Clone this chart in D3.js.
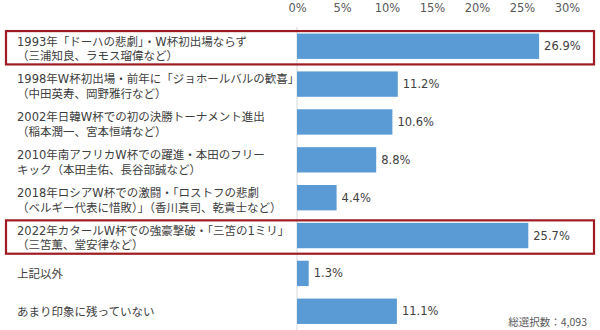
<!DOCTYPE html>
<html>
<head>
<meta charset="utf-8">
<script src="https://cdn.jsdelivr.net/npm/d3@7"></script>
<style>
  body { margin: 0; background: #fff; }
  svg text { font-family: "Noto Sans CJK JP", "Noto Sans", sans-serif; }
</style>
</head>
<body>
<div id="chart"></div>
<script>
const w = 600;
const h = 330;

// data
const labelLine1 = [
    "1993年「ドーハの悲劇」・W杯初出場ならず",
    "1998年W杯初出場・前年に「ジョホールバルの歓喜」",
    "2002年日韓W杯での初の決勝トーナメント進出",
    "2010年南アフリカW杯での躍進・本田のフリー",
    "2018年ロシアW杯での激闘・「ロストフの悲劇",
    "2022年カタールW杯での強豪撃破・「三笘の1ミリ」",
    "上記以外",
    "あまり印象に残っていない"
];
const labelLine2 = [
    "（三浦知良、ラモス瑠偉など）",
    "（中田英寿、岡野雅行など）",
    "（稲本潤一、宮本恒靖など）",
    "キック（本田圭佑、長谷部誠など）",
    "（ベルギー代表に惜敗）」（香川真司、乾貴士など）",
    "（三笘薫、堂安律など）",
    "",
    ""
];
const values = [26.9, 11.2, 10.6, 8.8, 4.4, 25.7, 1.3, 11.1];
const highlighted = [0, 5];
const ticks = [0, 5, 10, 15, 20, 25, 30];
const note = "総選択数：4,093";

const numFont = "'DejaVu Sans', 'Noto Sans CJK JP', sans-serif";
const labelFont = "'DejaVu Sans', 'Noto Sans CJK JP', sans-serif";

var svg = d3.select("#chart")
    .append("svg")
    .attr("width", w)
    .attr("height", h);

var x = d3.scaleLinear()
    .domain([0, 30])
    .range([297, 567]);

var y = d3.scaleBand()
    .domain(d3.range(values.length))
    .range([27.5, 330])
    .paddingInner(0.33)
    .paddingOuter(0.16);

// top axis labels
var xAxis = d3.axisTop(x)
    .tickValues(ticks)
    .tickSize(0)
    .tickPadding(0)
    .tickFormat(function(d) { return d + "%"; });

var gx = svg.append("g")
    .attr("transform", "translate(0,12)")
    .call(xAxis);
gx.select(".domain").remove();
gx.selectAll("text")
    .attr("font-size", 11.5)
    .attr("fill", "#595959")
    .style("font-family", numFont);

// vertical base line
svg.append("line")
    .attr("x1", x(0)).attr("x2", x(0))
    .attr("y1", 27).attr("y2", h)
    .attr("stroke", "#d9d9d9")
    .attr("stroke-width", 1);

var rows = svg.selectAll("g.row")
    .data(values)
    .enter()
    .append("g")
    .attr("class", "row");

rows.append("rect")
    .attr("x", x(0))
    .attr("y", function(d, i) { return y(i); })
    .attr("width", function(d) { return x(d) - x(0); })
    .attr("height", y.bandwidth())
    .attr("fill", "#5b9bd5");

rows.append("text")
    .attr("x", function(d) { return x(d) + 5; })
    .attr("y", function(d, i) { return y(i) + y.bandwidth() / 2; })
    .attr("dy", "0.35em")
    .attr("font-size", 11.5)
    .attr("fill", "#404040")
    .style("font-family", numFont)
    .text(function(d) { return d.toFixed(1) + "%"; });

// category labels, one or two lines
rows.each(function(d, i) {
    var cy = y(i) + y.bandwidth() / 2;
    var t = d3.select(this).append("text")
        .attr("font-size", 11.5)
        .attr("fill", "#404040")
        .style("font-family", labelFont);
    if (labelLine2[i]) {
        t.append("tspan").attr("x", 17).attr("y", cy - 4.7).attr("dy", "0.35em").text(labelLine1[i]);
        t.append("tspan").attr("x", 17).attr("y", cy + 9.8).attr("dy", "0.35em").text(labelLine2[i]);
    } else {
        t.append("tspan").attr("x", 17).attr("y", cy + 0.5).attr("dy", "0.35em").text(labelLine1[i]);
    }
});

// red highlight boxes
svg.selectAll("rect.hl")
    .data(highlighted)
    .enter()
    .append("rect")
    .attr("class", "hl")
    .attr("x", 6)
    .attr("y", function(i) { return y(i) - 2.5; })
    .attr("width", 588)
    .attr("height", y.bandwidth() + 8)
    .attr("fill", "none")
    .attr("stroke", "#9e1b24")
    .attr("stroke-width", 2.2);

svg.append("text")
    .attr("x", 587)
    .attr("y", 322.5)
    .attr("dy", "0.35em")
    .attr("text-anchor", "end")
    .attr("font-size", 10.5)
    .attr("fill", "#595959")
    .text(note);
</script>
</body>
</html>
